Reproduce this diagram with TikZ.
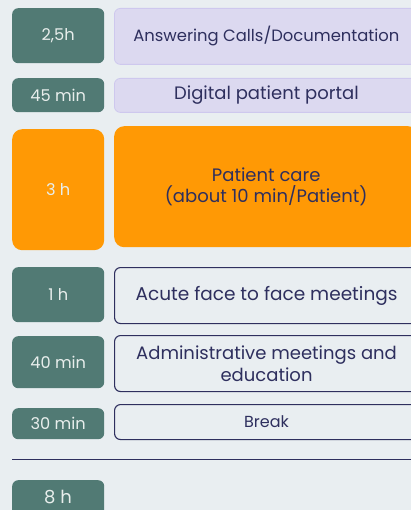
\documentclass[tikz,border=0pt]{standalone}
\usepackage{fontspec}
\setmainfont{Poppins}

\definecolor{pagebg}{HTML}{E9EEF1}
\definecolor{durfill}{HTML}{517A74}
\definecolor{durtext}{HTML}{E8EEEC}
\definecolor{lilacfill}{HTML}{DCD9F0}
\definecolor{lilacline}{HTML}{CEC8EE}
\definecolor{carefill}{HTML}{FF9905}
\definecolor{navy}{HTML}{2E2F5E}

\begin{document}
\begin{tikzpicture}[x=1pt, y=-1pt,
    dur/.style={rectangle, rounded corners=6pt, fill=durfill, text=durtext,
      minimum width=92pt, inner sep=0pt, anchor=north west, font=\fontsize{16.2}{19}\selectfont},
    task/.style={rectangle, rounded corners=6pt, text=navy, align=center,
      minimum width=304pt, inner sep=0pt, anchor=north west, font=\fontsize{18}{21.5}\selectfont},
    lilac/.style={task, fill=lilacfill, draw=lilacline, line width=0.8pt},
    care/.style={task, fill=carefill, rounded corners=10pt},
    plain/.style={task, draw=navy, line width=1.1pt}]
  \fill[pagebg] (0,0) rectangle (411,510);
  \useasboundingbox (0,0) rectangle (411,510);
  \clip (0,0) rectangle (411,510);

  % durations on the left
  \node[dur, minimum height=55pt] (d1) at (12,8) {2,5h};
  \node[dur, minimum height=34pt] (d2) at (12,78) {45 min};
  \node[dur, minimum height=121pt, fill=carefill, rounded corners=10pt] (d3) at (12,129) {3 h};
  \node[dur, minimum height=55pt] (d4) at (12,267) {1 h};
  \node[dur, minimum height=52pt] (d5) at (12,336) {40 min};
  \node[dur, minimum height=31pt] (d6) at (12,408) {30 min};
  \node[dur, minimum height=40pt] (d7) at (12,480) {};
  \node[text=durtext, inner sep=0pt, font=\fontsize{18}{21}\selectfont] (total) at (58,497) {8 h};

  % tasks on the right
  \node[lilac, minimum height=56pt, font=\fontsize{16.4}{19}\selectfont] (t1) at (114,8) {Answering Calls/Documentation};
  \node[lilac, minimum height=34pt] (t2) at (114,78) {Digital patient portal};
  \node[care, minimum height=121pt] (t3) at (114,126) {Patient care\\(about 10 min/Patient)};
  \node[plain, minimum height=56pt, font=\fontsize{18.5}{21.5}\selectfont] (t4) at (114,267) {Acute face to face meetings};
  \node[plain, minimum height=56pt] (t5) at (114,335) {Administrative meetings and\\education};
  \node[plain, minimum height=35pt, font=\fontsize{16}{19}\selectfont] (t6) at (114,404) {Break};

  % total
  \coordinate (sumL) at (12,459);
  \coordinate (sumR) at (411,459);
  \draw[navy, line width=1pt] (sumL) -- (sumR);
\end{tikzpicture}
\end{document}
